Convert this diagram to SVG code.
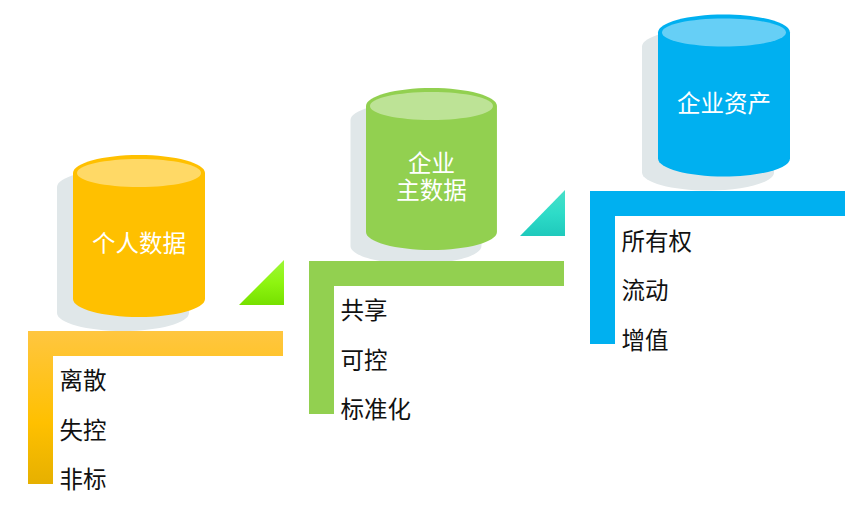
<svg xmlns="http://www.w3.org/2000/svg" width="865" height="505" viewBox="0 0 865 505">
<style>
text{font-family:"Noto Sans CJK SC","Noto Sans",sans-serif;font-size:23.500px;font-weight:400}
.d{fill:#111}
.w{fill:#fff;text-anchor:middle}
.sh{fill:#e0e7e9}
.in{fill:#fff;fill-opacity:.4}
</style>
<defs>
<path id="cyl" d="M0 18C0 8 30 0 66 0S132 8 132 18V144C132 154 102 162 66 162S0 154 0 144Z"/>
<path id="ell" d="M4 18C4 10 32 4 66 4S128 10 128 18S100 32 66 32S4 26 4 18Z"/>
<linearGradient id="gy" x1="0" y1="0" x2="0" y2="1"><stop offset="0" stop-color="#ffc640"/><stop offset=".6" stop-color="#ffc000"/><stop offset="1" stop-color="#e6b000"/></linearGradient>
<linearGradient id="tg" x1="0" y1="0" x2="0" y2="1"><stop offset="0" stop-color="#9ef63a"/><stop offset=".5" stop-color="#8ef510"/><stop offset="1" stop-color="#76e000"/></linearGradient>
<linearGradient id="tt" x1="0" y1="0" x2="0" y2="1"><stop offset="0" stop-color="#48dfc9"/><stop offset=".5" stop-color="#2edcc8"/><stop offset="1" stop-color="#1fc9bc"/></linearGradient>
</defs>
<g id="node-personal">
<use href="#cyl" x="57" y="169" class="sh"/>
<use href="#cyl" x="73" y="155" fill="#ffc000"/>
<use href="#ell" x="73" y="155" class="in"/>
<text class="w" x="139" y="252">个人数据</text>
<path d="M28 331H283V356H53V484H28Z" fill="url(#gy)"/>
<path d="M284 260V305H239Z" fill="url(#tg)"/>
<text class="d" x="59.500" y="389">离散</text>
<text class="d" x="59.500" y="439">失控</text>
<text class="d" x="59.500" y="488">非标</text>
</g>
<g id="node-master">
<use href="#cyl" transform="translate(350.500 102) scale(.992 1)" class="sh"/>
<use href="#cyl" transform="translate(366 88) scale(.992 1)" fill="#92d050"/>
<use href="#ell" transform="translate(366 88) scale(.992 1)" class="in"/>
<text class="w" y="172"><tspan x="431.500">企业</tspan><tspan x="431.500" dy="27">主数据</tspan></text>
<path d="M309 261H564V286H334V414H309Z" fill="#92d050"/>
<path d="M565 190V236H520Z" fill="url(#tt)"/>
<text class="d" x="340.500" y="319">共享</text>
<text class="d" x="340.500" y="369">可控</text>
<text class="d" x="340.500" y="418">标准化</text>
</g>
<g id="node-asset">
<use href="#cyl" x="642" y="28.500" class="sh"/>
<use href="#cyl" x="658" y="14.500" fill="#00b0f0"/>
<use href="#ell" x="658" y="14.500" class="in"/>
<text class="w" x="724" y="112">企业资产</text>
<path d="M590 191H845V216H615V344H590Z" fill="#00b0f0"/>
<text class="d" x="621.500" y="250">所有权</text>
<text class="d" x="621.500" y="299">流动</text>
<text class="d" x="621.500" y="349">增值</text>
</g>
</svg>
